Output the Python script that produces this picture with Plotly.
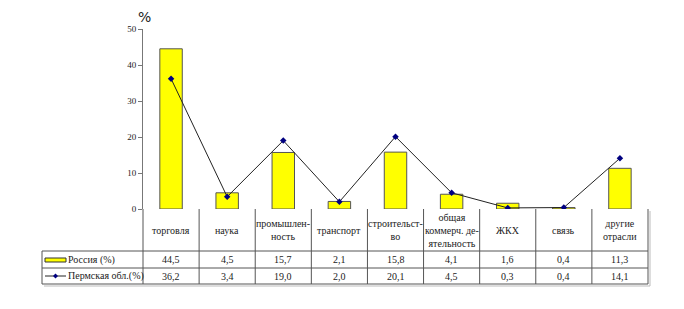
import plotly.graph_objects as go

categories = ["торговля", "наука", "промышлен-<br>ность", "транспорт", "строительст-<br>во",
              "общая<br>коммерч. де-<br>ятельность", "ЖКХ", "связь", "другие<br>отрасли"]
russia = [44.5, 4.5, 15.7, 2.1, 15.8, 4.1, 1.6, 0.4, 11.3]
perm = [36.2, 3.4, 19.0, 2.0, 20.1, 4.5, 0.3, 0.4, 14.1]
series_names = ["Россия (%)", "Пермская обл.(%)"]
y_ticks = [0, 10, 20, 30, 40, 50]

W, H = 684, 309
L, R, T, B = 143, 648, 29, 209  # plot area in pixels
FONT = "Liberation Serif"

def px(x):
    return (x - L) / (R - L)

def py(y):
    return (B - y) / (B - T)

def fmt(v):
    return f"{v:.1f}".replace(".", ",")

n = len(categories)
xs = list(range(n))

fig = go.Figure()
fig.add_trace(go.Bar(x=xs, y=russia, width=0.4, marker=dict(color="#FFFF00", line=dict(color="#555555", width=1)),
                     name=series_names[0]))
fig.add_trace(go.Scatter(x=xs, y=perm, mode="lines+markers", name=series_names[1],
                         line=dict(color="#222222", width=1),
                         marker=dict(symbol="diamond", size=5, color="#000080")))

shapes = []
line_col = "#555555"
row1 = py(251)
row2 = py(268)
row3 = py(284)
for yy in (row1, row2, row3):
    shapes.append(dict(type="line", xref="paper", yref="paper", x0=px(42), x1=1, y0=yy, y1=yy,
                       line=dict(color=line_col, width=1)))
for i in range(n + 1):
    xx = i / n
    shapes.append(dict(type="line", xref="paper", yref="paper", x0=xx, x1=xx, y0=0, y1=row3,
                       line=dict(color=line_col, width=1)))
shapes.append(dict(type="line", xref="paper", yref="paper", x0=px(42), x1=px(42), y0=row1, y1=row3,
                   line=dict(color=line_col, width=1)))
shapes.append(dict(type="line", xref="paper", yref="paper", x0=px(650), x1=px(650), y0=py(211), y1=py(286),
                   line=dict(color="#bbbbbb", width=1)))
shapes.append(dict(type="line", xref="paper", yref="paper", x0=px(44), x1=px(650), y0=py(286), y1=py(286),
                   line=dict(color="#bbbbbb", width=1)))
shapes.append(dict(type="rect", xref="paper", yref="paper", x0=px(45), x1=px(66), y0=py(262), y1=py(258),
                   fillcolor="#FFFF00", line=dict(color="#333333", width=1)))
shapes.append(dict(type="line", xref="paper", yref="paper", x0=px(45), x1=px(66), y0=py(276), y1=py(276),
                   line=dict(color="#222222", width=1)))
shapes.append(dict(type="path", xref="paper", yref="paper",
                   path=f"M {px(55.5)} {py(273.5)} L {px(58)} {py(276)} L {px(55.5)} {py(278.5)} L {px(53)} {py(276)} Z",
                   fillcolor="#000080", line=dict(color="#000080", width=0)))

ann = []
tf = dict(family=FONT, size=10, color="#222222")
for i, c in enumerate(categories):
    xc = (i + 0.5) / n
    ann.append(dict(x=xc, y=(0 + row1) / 2, xref="paper", yref="paper", text=c, showarrow=False,
                    font=tf, xanchor="center", yanchor="middle", align="center"))
    ann.append(dict(x=xc, y=(row1 + row2) / 2, xref="paper", yref="paper", text=fmt(russia[i]), showarrow=False,
                    font=tf, xanchor="center", yanchor="middle"))
    ann.append(dict(x=xc, y=(row2 + row3) / 2, xref="paper", yref="paper", text=fmt(perm[i]), showarrow=False,
                    font=tf, xanchor="center", yanchor="middle"))
ann.append(dict(x=px(66), y=(row1 + row2) / 2, xref="paper", yref="paper", text=series_names[0], showarrow=False,
                font=tf, xanchor="left", yanchor="middle"))
ann.append(dict(x=px(66), y=(row2 + row3) / 2, xref="paper", yref="paper", text=series_names[1], showarrow=False,
                font=tf, xanchor="left", yanchor="middle"))
ann.append(dict(x=px(144), y=py(17), xref="paper", yref="paper", text="%", showarrow=False,
                font=dict(family="DejaVu Sans", size=14, color="#222222"), xanchor="center", yanchor="middle"))

fig.update_layout(
    width=W, height=H, margin=dict(l=L, r=W - R, t=T, b=H - B),
    paper_bgcolor="white", plot_bgcolor="white", showlegend=False,
    bargap=0.6,
    xaxis=dict(range=[-0.5, n - 0.5], showticklabels=False, ticks="", showgrid=False, zeroline=False,
               showline=False, fixedrange=True),
    yaxis=dict(range=[0, 50], tickvals=y_ticks, ticks="outside", ticklen=4, tickcolor="#777777",
               showline=True, linecolor="#777777", linewidth=1, showgrid=False, zeroline=False,
               tickfont=dict(family=FONT, size=9, color="#222222"), fixedrange=True),
    shapes=shapes, annotations=ann,
)

fig.write_html("out.html")
